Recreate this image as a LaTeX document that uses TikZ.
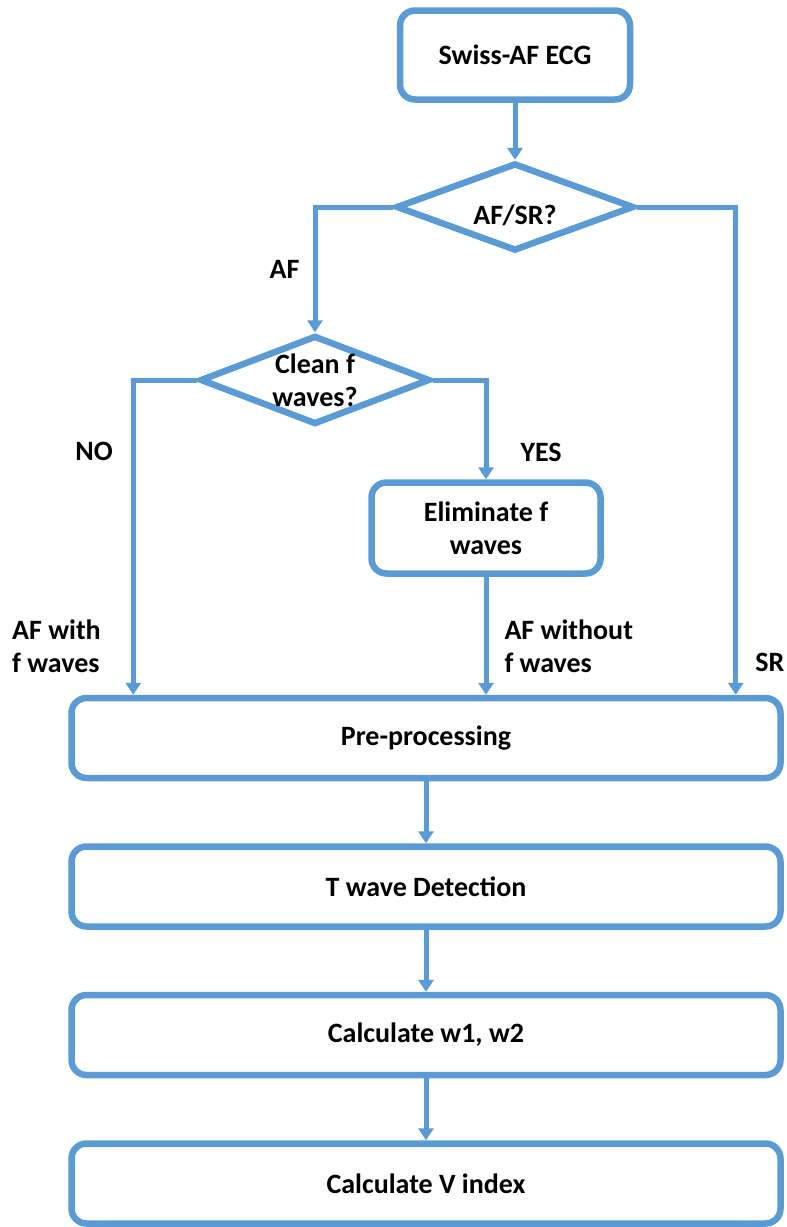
\documentclass[tikz,border=0pt]{standalone}
\usepackage{fontspec}
\setmainfont{Carlito}
\usetikzlibrary{arrows.meta,shapes.geometric,positioning}

\definecolor{flowblue}{RGB}{91,155,213}

\tikzset{
  procbox/.style={draw=flowblue,line width=6.5pt,rounded corners=15pt,fill=white,align=center},
  widebox/.style={procbox,minimum width=709pt,minimum height=80pt},
  decision/.style={diamond,draw=flowblue,line width=6.5pt,inner sep=0pt,fill=white},
  flow/.style={draw=flowblue,line width=5pt,-{Triangle[length=12pt,width=15pt]}},
  branchlabel/.style={inner sep=0pt,align=left}
}

\begin{document}
\begin{tikzpicture}[x=1pt,y=-1pt,font=\bfseries\fontsize{28}{33}\selectfont,node distance=62pt]
  \useasboundingbox (0,0) rectangle (787,1227);
  % upper part
  \node[procbox,minimum width=230pt,minimum height=89pt] (ecg) at (515,55) {Swiss-AF ECG};
  \node[decision,minimum width=238pt,minimum height=88pt,label={[yshift=-8pt]center:AF/SR?}] (afsr) at (515,207) {};
  \node[decision,minimum width=230pt,minimum height=89pt,label={[align=center]center:Clean f\\waves?}] (clean) at (315,380) {};
  \node[procbox,minimum width=229pt,minimum height=91pt] (elim) at (486,528) {Eliminate f\\waves};
  % processing chain
  \node[widebox] (pre) at (426,738) {Pre-processing};
  \node[widebox] (twave) [below=of pre] {T wave Detection};
  \node[widebox] (wcalc) [below=of twave] {Calculate w1, w2};
  \node[widebox] (vidx) [below=of wcalc] {Calculate V index};

  \draw[flow] (ecg) -- (afsr);
  \draw[flow] (afsr.west) -| node[branchlabel,pos=0.75,left=13pt] {AF} (clean.north);
  \draw[flow] (afsr.east) -| node[branchlabel,pos=0.967,right=17pt] {SR} ([xshift=-48pt]pre.north east);
  \draw[flow] (clean.west) -| node[branchlabel,pos=0.613,left=18pt] {NO}
    node[branchlabel,pos=0.923,left=30pt] {AF with\\f waves} ([xshift=65pt]pre.north west);
  \draw[flow] (clean.east) -| node[branchlabel,pos=0.867,right=32pt] {YES} (elim.north);
  \draw[flow] (elim) -- node[branchlabel,pos=0.59,right=16pt] {AF without\\f waves} (elim |- pre.north);
  \draw[flow] (pre) -- (twave);
  \draw[flow] (twave) -- (wcalc);
  \draw[flow] (wcalc) -- (vidx);
\end{tikzpicture}
\end{document}
